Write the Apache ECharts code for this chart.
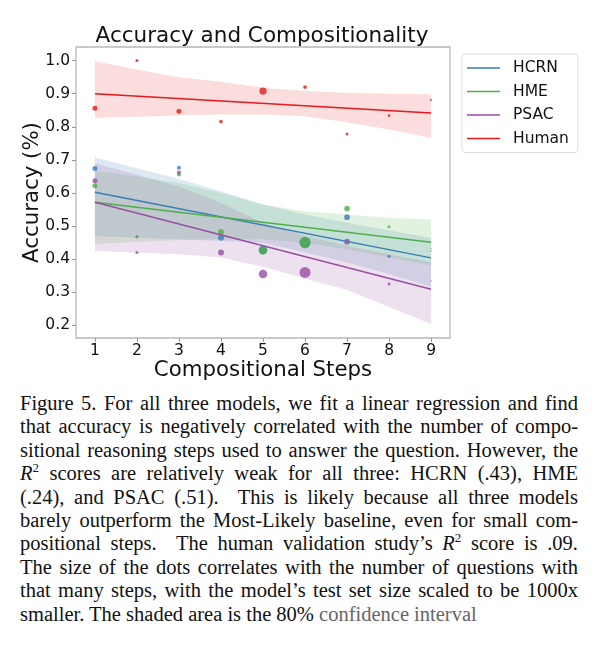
<!DOCTYPE html>
<html>
<head>
<meta charset="utf-8">
<title>Accuracy and Compositionality</title>
<script src="https://cdn.jsdelivr.net/npm/echarts@6/dist/echarts.min.js"></script>
<style>
	html, body { margin: 0; padding: 0; background: #fff; }
	#chart { position: absolute; left: 0; top: 0; width: 598px; height: 390px; }
	.caption {
		position: absolute; left: 20px; top: 392px; width: 558px;
		font-family: "Liberation Serif", "DejaVu Serif", serif;
		font-size: 20.5px; line-height: 23.4px; color: #111;
	}
	.caption div { text-align: justify; text-align-last: justify; }
	.caption div.last { text-align: left; text-align-last: left; }
	.caption .fade { color: #666; }
</style>
</head>
<body>
<div id="chart"></div>
<div class="caption">
	<div>Figure 5. For all three models, we fit a linear regression and find</div>
	<div>that accuracy is negatively correlated with the number of compo-</div>
	<div>sitional reasoning steps used to answer the question. However, the</div>
	<div><i>R</i><sup style="font-size:13px;line-height:0">2</sup> scores are relatively weak for all three: HCRN (.43), HME</div>
	<div>(.24), and PSAC (.51). &nbsp;This is likely because all three models</div>
	<div>barely outperform the Most-Likely baseline, even for small com-</div>
	<div>positional steps. &nbsp;The human validation study’s <i>R</i><sup style="font-size:13px;line-height:0">2</sup> score is .09.</div>
	<div>The size of the dots correlates with the number of questions with</div>
	<div>that many steps, with the model’s test set size scaled to be 1000x</div>
	<div class="last">smaller. The shaded area is the 80% <span class="fade">confidence interval</span></div>
</div>
<script>
	// 数据
	var steps = [1, 2, 3, 4, 5, 6, 7, 8, 9];

	var hcrnAcc  = [0.674, 0.468, 0.676, 0.465, 0.428, 0.450, 0.527, 0.409, 0.425];
	var hmeAcc   = [0.622, 0.468, 0.656, 0.482, 0.427, 0.451, 0.553, 0.498, 0.433];
	var psacAcc  = [0.637, 0.420, 0.662, 0.420, 0.355, 0.360, 0.453, 0.325, 0.334];
	var humanAcc = [0.856, 1.000, 0.847, 0.816, 0.908, 0.920, 0.778, 0.834, 0.881];

	// dot size ~ number of questions per step
	var modelCount = [5, 3, 4, 6, 8.5, 11, 5.7, 3, 1.3];
	var humanCount = [5, 3, 5, 3.7, 7.3, 3.7, 3, 2.7, 2];

	// regression line, value at step 1 and step 9
	var fitSteps = [1, 9];
	var hcrnFit  = [0.602, 0.404];
	var hmeFit   = [0.572, 0.451];
	var psacFit  = [0.572, 0.309];
	var humanFit = [0.900, 0.842];

	// 80% confidence band
	var hcrnLow   = [0.470, 0.465, 0.460, 0.455, 0.450, 0.420, 0.390, 0.355, 0.317];
	var hcrnHigh  = [0.708, 0.675, 0.642, 0.605, 0.565, 0.535, 0.510, 0.487, 0.465];
	var hmeLow    = [0.446, 0.452, 0.458, 0.462, 0.460, 0.450, 0.430, 0.405, 0.382];
	var hmeHigh   = [0.667, 0.650, 0.630, 0.600, 0.565, 0.545, 0.535, 0.525, 0.520];
	var psacLow   = [0.425, 0.420, 0.415, 0.405, 0.377, 0.342, 0.307, 0.256, 0.204];
	var psacHigh  = [0.690, 0.655, 0.620, 0.570, 0.510, 0.470, 0.440, 0.415, 0.390];
	var humanLow  = [0.827, 0.830, 0.834, 0.837, 0.837, 0.832, 0.814, 0.792, 0.767];
	var humanHigh = [0.998, 0.973, 0.950, 0.936, 0.918, 0.908, 0.903, 0.900, 0.898];

	var yTicks = [0.2, 0.3, 0.4, 0.5, 0.6, 0.7, 0.8, 0.9, 1.0];

	var colors = { HCRN: '#377eb8', HME: '#4daf4a', PSAC: '#984ea3', Human: '#e41a1c' };
	var font = 'DejaVu Sans';

	function pairs(xs, ys) {
		return xs.map(function (x, i) { return [x, ys[i]]; });
	}

	// band drawn as one polygon: upper edge left->right, lower edge back
	function bandSeries(name, low, high, alpha) {
		return {
			name: name + ' ci', type: 'custom', z: 1, silent: true,
			data: steps.map(function (s, i) { return [s, low[i], high[i]]; }),
			encode: { x: 0, y: [1, 2] },
			renderItem: function (params, api) {
				if (params.dataIndexInside !== 0) return;
				let n = params.dataInsideLength, pts = [];
				for (let i = 0; i < n; i++) pts.push(api.coord([api.value(0, i), api.value(2, i)]));
				for (let i = n - 1; i >= 0; i--) pts.push(api.coord([api.value(0, i), api.value(1, i)]));
				return {
					type: 'polygon', shape: { points: pts },
					style: { fill: colors[name], opacity: alpha }
				};
			}
		};
	}

	function dotSeries(name, acc, count) {
		return {
			name: name + ' pts', type: 'scatter', z: 2, silent: true,
			data: steps.map(function (s, i) { return [s, acc[i], count[i]]; }),
			symbolSize: function (v) { return v[2]; },
			itemStyle: { color: colors[name], opacity: 0.8 }
		};
	}

	function fitSeries(name, fit) {
		return {
			name: name, type: 'line', z: 3, silent: true, symbol: 'none',
			data: pairs(fitSteps, fit),
			itemStyle: { color: colors[name] },
			lineStyle: { color: colors[name], width: 1.5 }
		};
	}

	let series = [].concat(
		bandSeries('HCRN', hcrnLow, hcrnHigh, 0.17),
		bandSeries('HME', hmeLow, hmeHigh, 0.17),
		bandSeries('PSAC', psacLow, psacHigh, 0.17),
		bandSeries('Human', humanLow, humanHigh, 0.15),
		dotSeries('HCRN', hcrnAcc, modelCount),
		dotSeries('HME', hmeAcc, modelCount),
		dotSeries('PSAC', psacAcc, modelCount),
		dotSeries('Human', humanAcc, humanCount),
		fitSeries('HCRN', hcrnFit),
		fitSeries('HME', hmeFit),
		fitSeries('PSAC', psacFit),
		fitSeries('Human', humanFit)
	);

	var chart = echarts.init(document.getElementById('chart'));
	chart.setOption({
		animation: false,
		textStyle: { fontFamily: font },
		title: {
			text: 'Accuracy and Compositionality',
			left: 257, top: 20, textAlign: 'center',
			textStyle: { fontFamily: font, fontSize: 21.5, fontWeight: 'normal', color: '#111' }
		},
		legend: {
			data: ['HCRN', 'HME', 'PSAC', 'Human'],
			orient: 'vertical', left: 462, top: 54,
			icon: 'rect', itemWidth: 33, itemHeight: 1.5, itemGap: 7.5,
			padding: [6, 9, 6, 5],
			borderColor: '#dddddd', borderWidth: 1, borderRadius: 3,
			textStyle: { fontFamily: font, fontSize: 15.5, color: '#111', padding: [0, 0, 0, 8] }
		},
		grid: {
			left: 76, right: 148, top: 47, bottom: 52,
			outerBoundsMode: 'none',
			show: true, borderColor: '#b8b8b8', borderWidth: 1.3
		},
		xAxis: {
			type: 'value', min: 0.55, max: 9.45,
			name: 'Compositional Steps', nameLocation: 'middle', nameGap: 22, nameMoveOverlap: false,
			nameTextStyle: { fontFamily: font, fontSize: 21.3, color: '#111' },
			axisLine: { show: false },
			splitLine: { show: false },
			axisTick: { show: true, length: 4, lineStyle: { color: '#999' }, customValues: steps },
			axisLabel: { fontFamily: font, fontSize: 15.5, color: '#111', margin: 5, customValues: steps }
		},
		yAxis: {
			type: 'value', min: 0.162, max: 1.041,
			name: 'Accuracy (%)', nameLocation: 'middle', nameGap: 33, nameRotate: 90, nameMoveOverlap: false,
			nameTextStyle: { fontFamily: font, fontSize: 21.3, color: '#111' },
			axisLine: { show: false },
			splitLine: { show: false },
			axisTick: { show: true, length: 4, lineStyle: { color: '#999' }, customValues: yTicks },
			axisLabel: {
				fontFamily: font, fontSize: 15.5, color: '#111', margin: 6, customValues: yTicks,
				formatter: function (v) { return v.toFixed(1); }
			}
		},
		series: series
	});
</script>
</body>
</html>
